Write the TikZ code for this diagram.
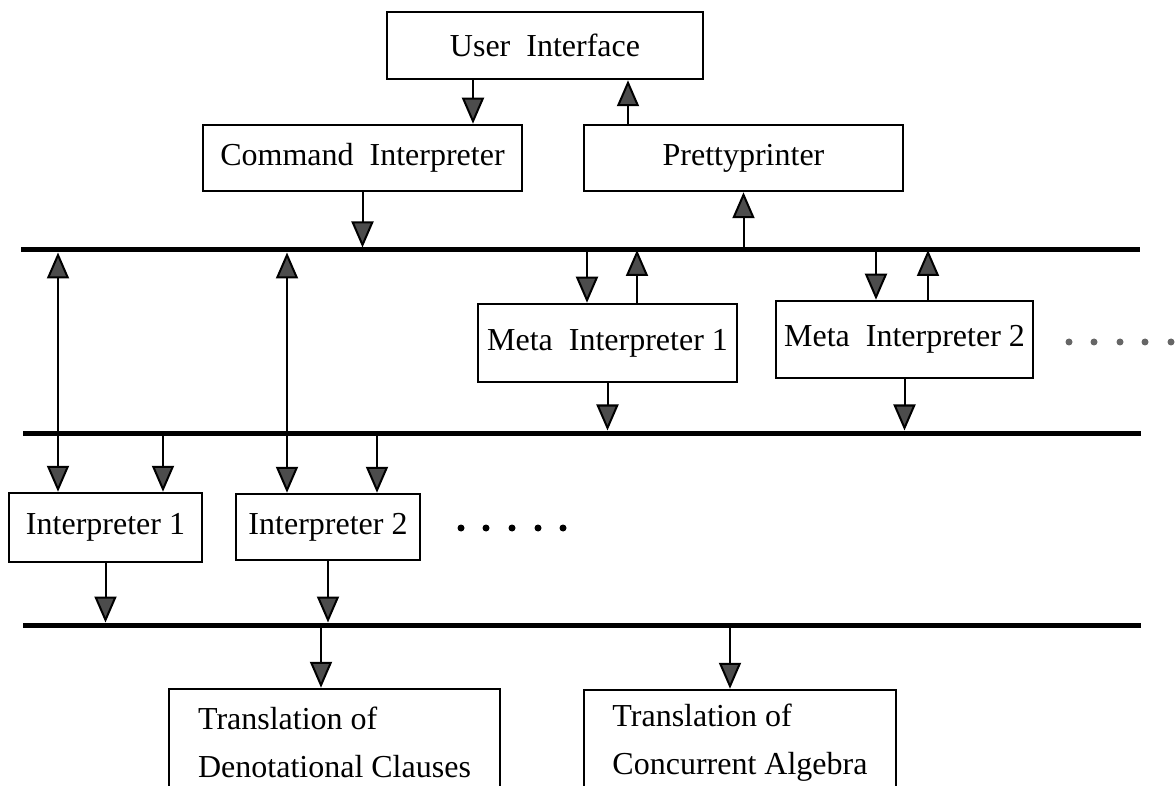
\documentclass[tikz,border=0pt]{standalone}
\usepackage{fontspec}
\setmainfont{Liberation Serif}
\usetikzlibrary{arrows.meta,positioning}

\begin{document}
\begin{tikzpicture}[x=1pt,y=-1pt,font=\fontsize{32}{48}\selectfont,
  box/.style={draw,line width=2.5pt,inner sep=0pt},
  bus/.style={line width=5pt},
  arr/.style={line width=2pt,-{Triangle[width=22pt,length=26pt,fill=black!70]}},
  darr/.style={line width=2pt,{Triangle[width=22pt,length=26pt,fill=black!70]}-{Triangle[width=22pt,length=26pt,fill=black!70]}}]
\useasboundingbox (0,0) rectangle (1176,786);
\clip (0,0) rectangle (1176,786);
% boxes
\node[box,minimum width=316pt,minimum height=67pt] (ui) at (545,45.5) {User\ \ Interface};
\node[box,minimum width=319pt,minimum height=66pt] (cmd) at (362.5,158) {Command\ \ Interpreter};
\node[box,minimum width=319pt,minimum height=66pt] (pp) at (743.5,158) {Prettyprinter};
\node[box,minimum width=259pt,minimum height=78pt] (meta1) at (607.5,343) {Meta\ \ Interpreter 1};
\node[box,minimum width=257pt,minimum height=77pt] (meta2) at (904.5,339.5) {Meta\ \ Interpreter 2};
\node[box,minimum width=193pt,minimum height=69pt] (int1) at (105.5,527.5) {Interpreter 1};
\node[box,minimum width=184pt,minimum height=66pt] (int2) at (328,527) {Interpreter 2};
\node[box,minimum width=331pt,minimum height=106pt,align=left] (tr1) at (334.5,742) {Translation of\\Denotational Clauses};
\node[box,minimum width=312pt,minimum height=106pt,align=left] (tr2) at (740,743) {Translation of\\Concurrent Algebra};
% buses
\coordinate (b1w) at (21,250); \coordinate (b1e) at (1140,250);
\coordinate (b2w) at (23,433); \coordinate (b2e) at (1141,433);
\coordinate (b3w) at (23,625); \coordinate (b3e) at (1141,625);
\draw[bus] (b1w) -- (b1e);
\draw[bus] (b2w) -- (b2e);
\draw[bus] (b3w) -- (b3e);
% connector columns
\coordinate (uc) at (473,0); \coordinate (pc) at (628,0);
\coordinate (m1a) at (587,0); \coordinate (m1b) at (637,0);
\coordinate (m2a) at (876,0); \coordinate (m2b) at (928,0);
\coordinate (d1) at (58,0); \coordinate (d2) at (287,0);
\coordinate (i1) at (163,0); \coordinate (i2) at (377,0);
\coordinate (t1) at (321,0); \coordinate (t2) at (730,0);
\draw[arr] (ui.south -| uc) -- (cmd.north -| uc);
\draw[arr] (pp.north -| pc) -- (ui.south -| pc);
\draw[arr,shorten >=2.5pt] (cmd.south) -- (cmd.south |- b1w);
\draw[arr] (pp.south |- b1w) -- (pp.south);
\draw[arr] (b1w -| m1a) -- (meta1.north -| m1a);
\draw[arr] (meta1.north -| m1b) -- (b1w -| m1b);
\draw[arr] (b1w -| m2a) -- (meta2.north -| m2a);
\draw[arr] (meta2.north -| m2b) -- (b1w -| m2b);
\draw[arr,shorten >=2.5pt] (meta1.south) -- (meta1.south |- b2w);
\draw[arr,shorten >=2.5pt] (meta2.south) -- (meta2.south |- b2w);
\draw[darr,shorten <=2.5pt] (b1w -| d1) -- (int1.north -| d1);
\draw[darr,shorten <=2.5pt] (b1w -| d2) -- (int2.north -| d2);
\draw[arr] (b2w -| i1) -- (int1.north -| i1);
\draw[arr] (b2w -| i2) -- (int2.north -| i2);
\draw[arr,shorten >=2.5pt] (int1.south) -- (int1.south |- b3w);
\draw[arr,shorten >=2.5pt] (int2.south) -- (int2.south |- b3w);
\draw[arr] (b3w -| t1) -- (tr1.north -| t1);
\draw[arr] (b3w -| t2) -- (tr2.north -| t2);
% dots
\fill[black!60] (1069,342) circle (3.5pt); \fill[black!60] (1094,342) circle (3.5pt);
\fill[black!60] (1120,342) circle (3.5pt); \fill[black!60] (1145,342) circle (3.5pt);
\fill[black!60] (1171,342) circle (3.5pt);
\fill (461,528) circle (3.5pt); \fill (486,528) circle (3.5pt); \fill (512,528) circle (3.5pt);
\fill (538,528) circle (3.5pt); \fill (563,528) circle (3.5pt);
\end{tikzpicture}
\end{document}
